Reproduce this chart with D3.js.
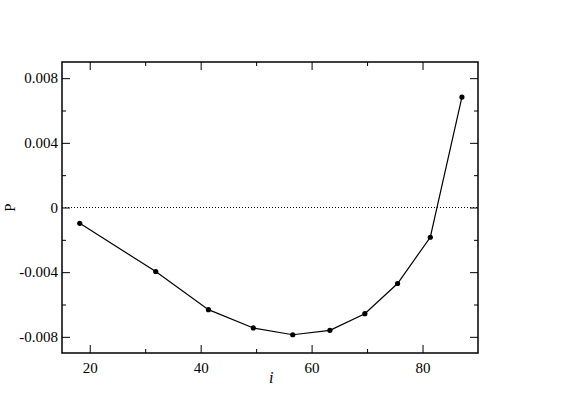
<!DOCTYPE html>
<html>
<head>
<meta charset="utf-8">
<script src="https://cdn.jsdelivr.net/npm/d3@7"></script>
<style>
  body { margin: 0; background: #fff; }
  svg { display: block; }
</style>
</head>
<body>
<div id="chart"></div>
<script>
// Data
const iValues = [18.2, 31.9, 41.4, 49.5, 56.6, 63.3, 69.6, 75.5, 81.4, 87.1];
const pValues = [-0.00098, -0.00396, -0.00632, -0.00745, -0.00787, -0.0076, -0.00657, -0.0047, -0.00184, 0.00683];
const xTicks = [20, 40, 60, 80];
const xMinor = [30, 50, 70];
const yTicks = [-0.008, -0.004, 0, 0.004, 0.008];
const yMinor = [-0.006, -0.002, 0.002, 0.006];

const data = iValues.map((d, k) => ({i: d, p: pValues[k]}));

// Dimensions
const margin = {top: 62, right: 94, bottom: 51, left: 62};
const width = 572 - margin.left - margin.right;
const height = 404 - margin.top - margin.bottom;

const svg = d3.select("#chart").append("svg")
    .attr("width", 572)
    .attr("height", 404)
  .append("g")
    .attr("transform", `translate(${margin.left},${margin.top})`);

// Scales
const x = d3.scaleLinear().domain([15, 90]).range([0, width]);
const y = d3.scaleLinear().domain([-0.009, 0.009]).range([height, 0]);

const fmt = d => d === 0 ? "0" : d3.format(".3f")(d).replace("−", "-");

// Zero reference line (dotted)
svg.append("line")
    .attr("x1", 0).attr("x2", width)
    .attr("y1", y(0)).attr("y2", y(0))
    .attr("stroke", "#000")
    .attr("stroke-width", 1)
    .attr("stroke-dasharray", "1,2");

// Axes with inward ticks on all four sides
function styleAxis(g) {
  g.attr("font-family", "Liberation Serif").attr("font-size", 15);
  g.select(".domain").remove();
  g.selectAll("line").attr("stroke", "#000");
  g.selectAll("text")
    .attr("font-family", "Liberation Serif")
    .attr("font-size", 15)
    .attr("fill", "#000");
}

svg.append("g")
    .attr("transform", `translate(0,${height})`)
    .call(d3.axisBottom(x).tickValues(xTicks).tickSizeInner(-8).tickSizeOuter(0).tickPadding(9))
    .call(styleAxis);
svg.append("g")
    .attr("transform", `translate(0,${height})`)
    .call(d3.axisBottom(x).tickValues(xMinor).tickSize(-4).tickFormat(""))
    .call(styleAxis);
svg.append("g")
    .call(d3.axisTop(x).tickValues(xTicks).tickSize(-8).tickFormat(""))
    .call(styleAxis);
svg.append("g")
    .call(d3.axisTop(x).tickValues(xMinor).tickSize(-4).tickFormat(""))
    .call(styleAxis);

svg.append("g")
    .call(d3.axisLeft(y).tickValues(yTicks).tickSizeInner(-8).tickSizeOuter(0).tickPadding(4).tickFormat(fmt))
    .call(styleAxis);
svg.append("g")
    .call(d3.axisLeft(y).tickValues(yMinor).tickSize(-4).tickFormat(""))
    .call(styleAxis);
svg.append("g")
    .attr("transform", `translate(${width},0)`)
    .call(d3.axisRight(y).tickValues(yTicks).tickSize(-8).tickFormat(""))
    .call(styleAxis);
svg.append("g")
    .attr("transform", `translate(${width},0)`)
    .call(d3.axisRight(y).tickValues(yMinor).tickSize(-4).tickFormat(""))
    .call(styleAxis);

// Frame
svg.append("rect")
    .attr("x", 0).attr("y", 0)
    .attr("width", width).attr("height", height)
    .attr("fill", "none")
    .attr("stroke", "#000")
    .attr("stroke-width", 1.5);

// Axis labels
svg.append("text")
    .attr("x", x(52.7))
    .attr("y", height + 30)
    .attr("text-anchor", "middle")
    .attr("font-family", "Liberation Serif")
    .attr("font-size", 16)
    .attr("font-style", "italic")
    .text("i");

svg.append("text")
    .attr("transform", "rotate(-90)")
    .attr("x", -y(0))
    .attr("y", -margin.left + 15)
    .attr("text-anchor", "middle")
    .attr("font-family", "Liberation Serif")
    .attr("font-size", 15)
    .text("P");

// Line and markers
const line = d3.line()
    .x(d => x(d.i))
    .y(d => y(d.p));

svg.append("path")
    .datum(data)
    .attr("fill", "none")
    .attr("stroke", "#000")
    .attr("stroke-width", 1.2)
    .attr("d", line);

svg.selectAll(".pt")
    .data(data)
    .enter()
    .append("circle")
    .attr("class", "pt")
    .attr("cx", d => x(d.i))
    .attr("cy", d => y(d.p))
    .attr("r", 2.6)
    .attr("fill", "#000");
</script>
</body>
</html>
